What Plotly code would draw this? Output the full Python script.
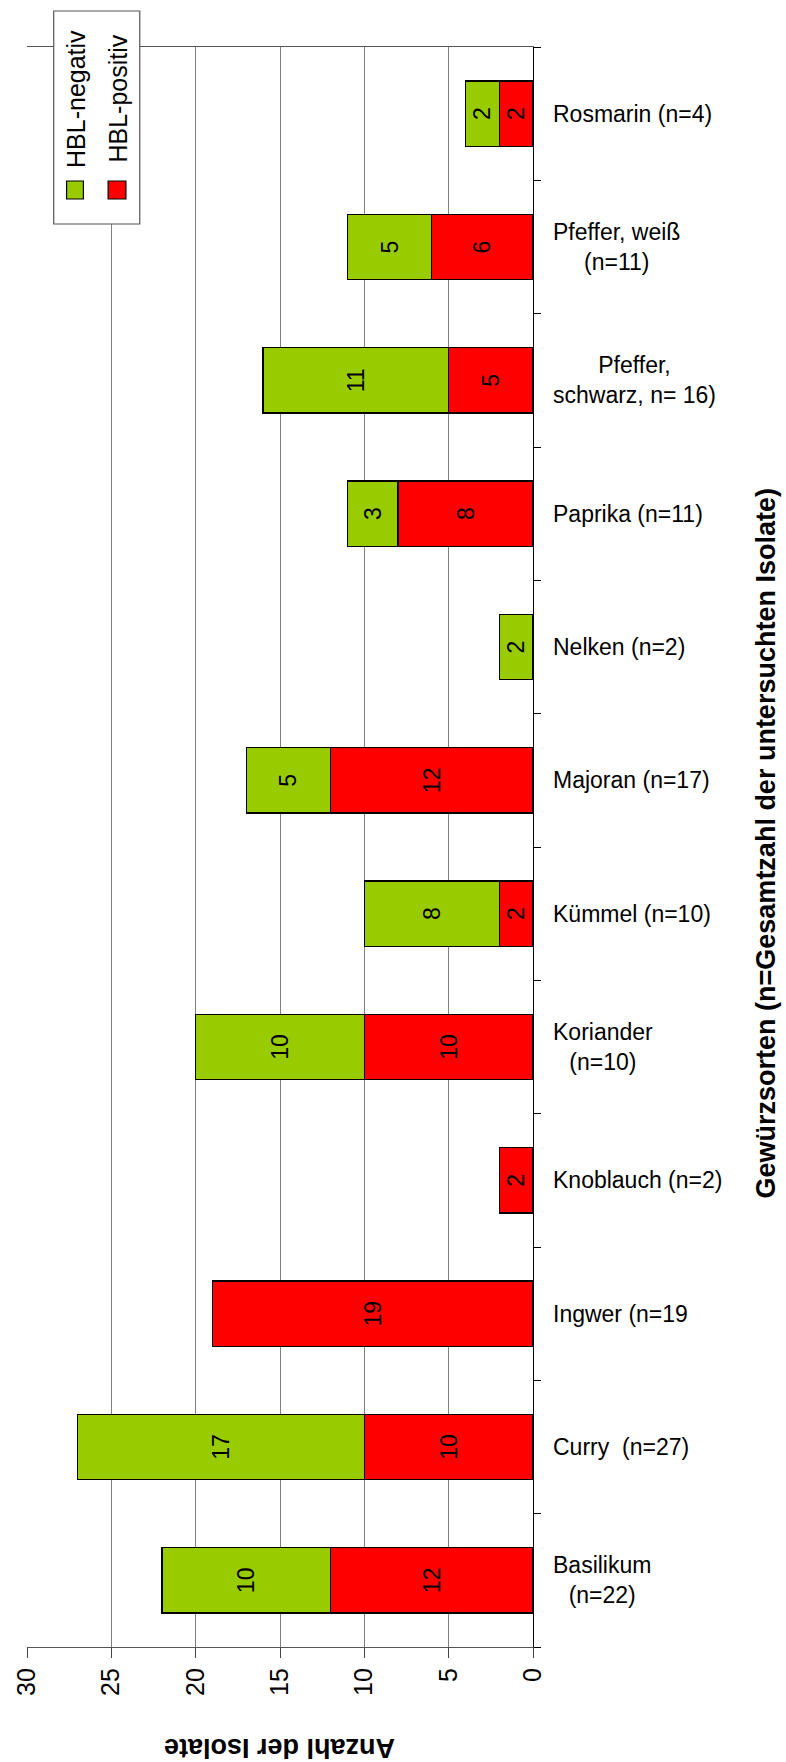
import plotly.graph_objects as go

# Spice categories (bottom to top) and isolate counts
categories = [
    "Basilikum<br>(n=22)",
    "Curry  (n=27)",
    "Ingwer (n=19",
    "Knoblauch (n=2)",
    "Koriander<br>(n=10)",
    "Kümmel (n=10)",
    "Majoran (n=17)",
    "Nelken (n=2)",
    "Paprika (n=11)",
    "Pfeffer,<br>schwarz, n= 16)",
    "Pfeffer, weiß<br>(n=11)",
    "Rosmarin (n=4)",
]
hbl_positiv = [12, 10, 19, 2, 10, 2, 12, None, 8, 5, 6, 2]
hbl_negativ = [10, 17, None, None, 10, 8, 5, 2, 3, 11, 5, 2]
value_ticks = [0, 5, 10, 15, 20, 25, 30]

series = [
    ("HBL-positiv", hbl_positiv, "#FF0000"),
    ("HBL-negativ", hbl_negativ, "#99CC00"),
]

FONT = "Liberation Sans, Arial, sans-serif"
W, H = 786, 1762
L, R, T, B = 22, 533.5, 47, 1647


def px_x(x):
    return (x - L) / (R - L)


def px_y(y):
    return (B - y) / (B - T)


fig = go.Figure()
for name, vals, color in series:
    fig.add_trace(go.Bar(
        y=categories, x=vals, name=name, orientation="h",
        marker=dict(color=color, line=dict(color="black", width=1.3)),
        text=[("" if v is None else str(v)) for v in vals],
        textposition="inside", insidetextanchor="middle",
        textangle=-90, constraintext="none",
        textfont=dict(family=FONT, size=23, color="black"),
        showlegend=False,
    ))

annotations = []
# category labels on the right of the axis
for c in categories:
    annotations.append(dict(
        x=1, xref="paper", y=c, yref="y", xanchor="left", yanchor="middle",
        xshift=18, text=c, showarrow=False, align="center",
        font=dict(family=FONT, size=23, color="black"),
    ))

# axis titles
annotations.append(dict(
    x=0.5, xref="paper", y=px_y(1748), yref="paper", text="<b>Anzahl der Isolate</b>",
    textangle=180, showarrow=False, xanchor="center", yanchor="middle",
    font=dict(family=FONT, size=27, color="black"),
))
annotations.append(dict(
    x=px_x(769), xref="paper", y=px_y(843.5), yref="paper",
    text="<b>Gewürzsorten (n=Gesamtzahl der untersuchten Isolate)</b>",
    textangle=-90, showarrow=False, xanchor="center", yanchor="middle",
    font=dict(family=FONT, size=27, color="black"),
))

# legend (rotated)
shapes = [dict(
    type="rect", xref="paper", yref="paper",
    x0=px_x(49), x1=px_x(136), y0=px_y(224), y1=px_y(11),
    fillcolor="white", line=dict(color="#555555", width=1.2), layer="above",
)]
legend_items = [("HBL-negativ", "#99CC00", 62, 79, 71), ("HBL-positiv", "#FF0000", 104, 122, 113)]
for name, color, sx0, sx1, tx in legend_items:
    shapes.append(dict(
        type="rect", xref="paper", yref="paper",
        x0=px_x(sx0), x1=px_x(sx1), y0=px_y(199), y1=px_y(181),
        fillcolor=color, line=dict(color="black", width=1.2), layer="above",
    ))
    annotations.append(dict(
        x=px_x(tx), xref="paper", y=px_y(98.5), yref="paper", text=name,
        textangle=-90, showarrow=False, xanchor="center", yanchor="middle",
        font=dict(family=FONT, size=25, color="black"),
    ))

fig.update_layout(
    width=W, height=H,
    margin=dict(l=L, r=W - R, t=T, b=H - B, pad=0),
    paper_bgcolor="white", plot_bgcolor="white",
    barmode="stack", bargap=0.51,
    annotations=annotations, shapes=shapes,
    xaxis=dict(
        range=[30, 0], tickvals=value_ticks, ticktext=[str(v) for v in value_ticks],
        tickangle=-90, ticks="outside", ticklen=10, tickcolor="#444444",
        tickfont=dict(family=FONT, size=25, color="black"),
        showgrid=True, gridcolor="#808080", gridwidth=1,
        showline=True, linecolor="#555555", linewidth=1.3, mirror=True,
        zeroline=False, fixedrange=True,
    ),
    yaxis=dict(
        categoryorder="array", categoryarray=categories, range=[-0.5, len(categories) - 0.5],
        side="right", showticklabels=False, ticks="outside", ticklen=7,
        tickson="boundaries", tickcolor="black",
        showline=True, linecolor="black", linewidth=1.3,
        showgrid=False, zeroline=False, fixedrange=True,
    ),
)

fig.write_html("out.html")
